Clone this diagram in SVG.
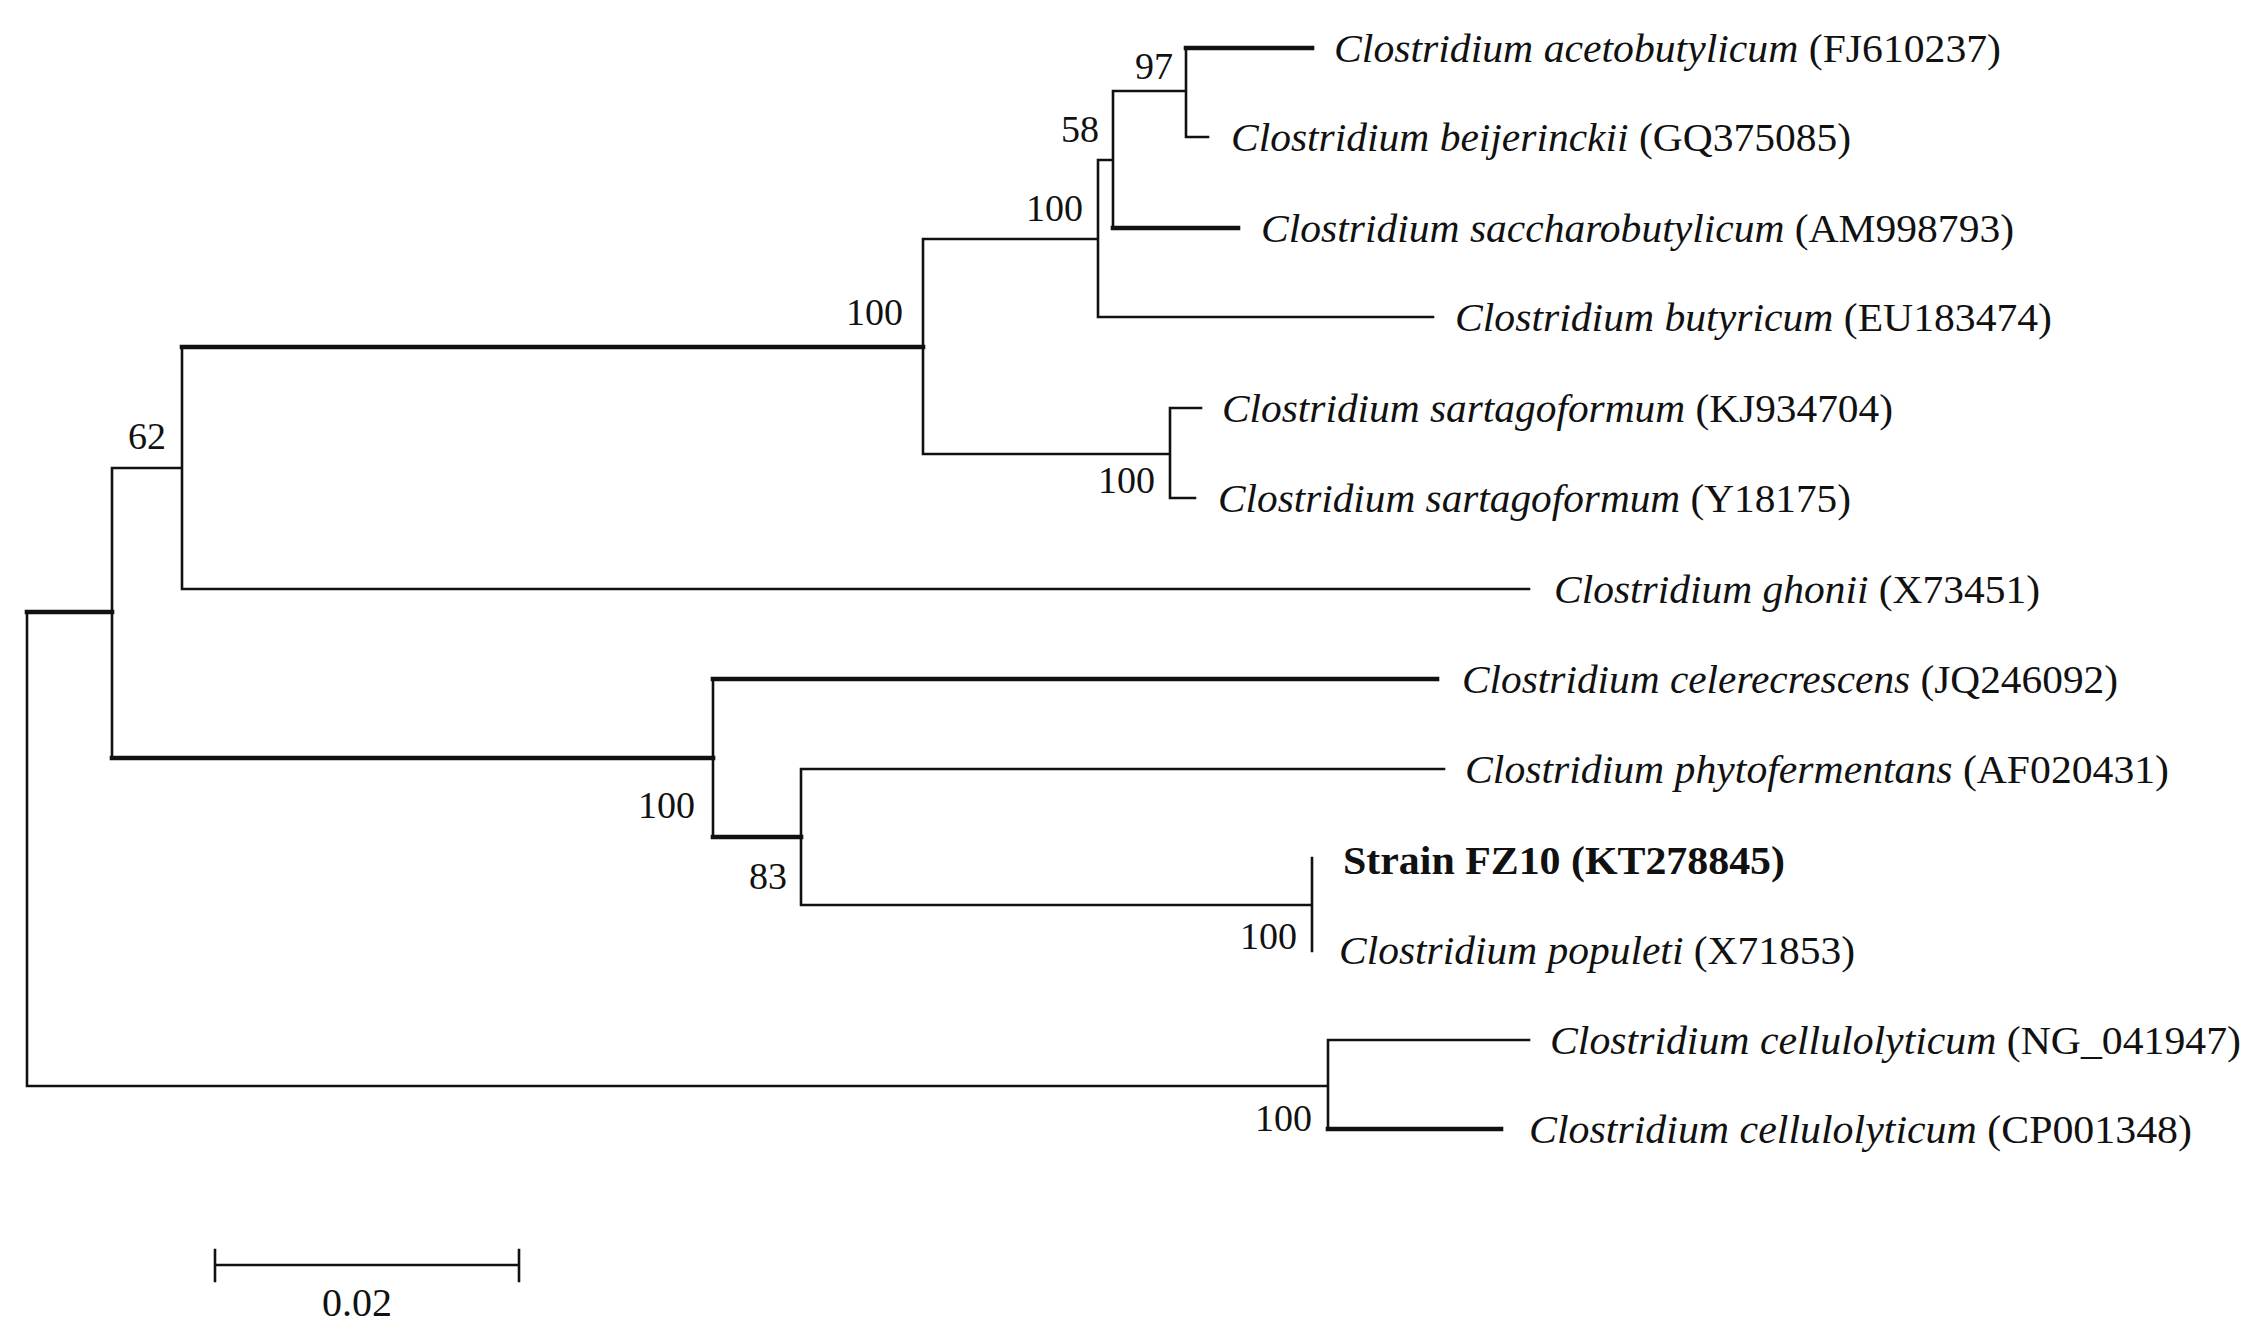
<svg xmlns="http://www.w3.org/2000/svg" width="2261" height="1334" viewBox="0 0 2261 1334">
<style>
.br{fill:none;stroke:#111;stroke-width:2.6;stroke-linecap:square}
.th{stroke-width:4.6}
.lb{font-family:"Liberation Serif",serif;font-size:40px;fill:#111}
.it{font-style:italic}
.bd{font-weight:bold}
.bs{font-family:"Liberation Serif",serif;font-size:38px;fill:#111;text-anchor:end}
</style>
<rect width="2261" height="1334" fill="#fff"/>
<g id="connectors">
<path class="br" d="M27 612V1086H1328M112 468V758M182 347V589H1529M923 239V454H1170M1098 160V317H1433M1113 91V228M1186 48V137H1208M1170 408V498H1195M1170 408H1201M713 679V837M801 769V905H1312M801 769H1444M1312 858V951M1328 1040V1129M1328 1040H1529M112 468H182M923 239H1098M1098 160H1113M1113 91H1186"/>
<path class="br th" d="M27 612H112M112 758H713M182 347H923M1113 228H1238M1186 48H1312M713 679H1437M713 837H801M1328 1129H1501"/>
</g>
<g id="leaves">
<g id="n1"><text class="lb" x="1334" y="62" textLength="667" lengthAdjust="spacingAndGlyphs"><tspan class="it">Clostridium acetobutylicum</tspan> (FJ610237)</text></g>
<g id="n2"><text class="lb" x="1231" y="151" textLength="620" lengthAdjust="spacingAndGlyphs"><tspan class="it">Clostridium beijerinckii</tspan> (GQ375085)</text></g>
<g id="n3"><text class="lb" x="1261" y="242" textLength="753" lengthAdjust="spacingAndGlyphs"><tspan class="it">Clostridium saccharobutylicum</tspan> (AM998793)</text></g>
<g id="n4"><text class="lb" x="1455" y="331" textLength="597" lengthAdjust="spacingAndGlyphs"><tspan class="it">Clostridium butyricum</tspan> (EU183474)</text></g>
<g id="n5"><text class="lb" x="1222" y="422" textLength="671" lengthAdjust="spacingAndGlyphs"><tspan class="it">Clostridium sartagoformum</tspan> (KJ934704)</text></g>
<g id="n6"><text class="lb" x="1218" y="512" textLength="633" lengthAdjust="spacingAndGlyphs"><tspan class="it">Clostridium sartagoformum</tspan> (Y18175)</text></g>
<g id="n7"><text class="lb" x="1554" y="603" textLength="486" lengthAdjust="spacingAndGlyphs"><tspan class="it">Clostridium ghonii</tspan> (X73451)</text></g>
<g id="n8"><text class="lb" x="1462" y="693" textLength="656" lengthAdjust="spacingAndGlyphs"><tspan class="it">Clostridium celerecrescens</tspan> (JQ246092)</text></g>
<g id="n9"><text class="lb" x="1465" y="783" textLength="704" lengthAdjust="spacingAndGlyphs"><tspan class="it">Clostridium phytofermentans</tspan> (AF020431)</text></g>
<g id="n10"><text class="lb bd" x="1343" y="874" textLength="442" lengthAdjust="spacingAndGlyphs">Strain FZ10 (KT278845)</text></g>
<g id="n11"><text class="lb" x="1339" y="964" textLength="516" lengthAdjust="spacingAndGlyphs"><tspan class="it">Clostridium populeti</tspan> (X71853)</text></g>
<g id="n12"><text class="lb" x="1550" y="1054" textLength="691" lengthAdjust="spacingAndGlyphs"><tspan class="it">Clostridium cellulolyticum</tspan> (NG_041947)</text></g>
<g id="n13"><text class="lb" x="1529" y="1143" textLength="663" lengthAdjust="spacingAndGlyphs"><tspan class="it">Clostridium cellulolyticum</tspan> (CP001348)</text></g>
</g>
<g id="bootstrap">
<text class="bs" x="166" y="449">62</text>
<text class="bs" x="903" y="325">100</text>
<text class="bs" x="1083" y="221">100</text>
<text class="bs" x="1099" y="142">58</text>
<text class="bs" x="1173" y="79">97</text>
<text class="bs" x="1155" y="493">100</text>
<text class="bs" x="695" y="818">100</text>
<text class="bs" x="787" y="889">83</text>
<text class="bs" x="1297" y="949">100</text>
<text class="bs" x="1312" y="1131">100</text>
</g>
<g id="scale">
<path class="br" d="M215 1265H519M215 1250V1281M519 1250V1281"/>
<text class="lb" x="357" y="1316" text-anchor="middle" font-size="38">0.02</text>
</g>
</svg>
